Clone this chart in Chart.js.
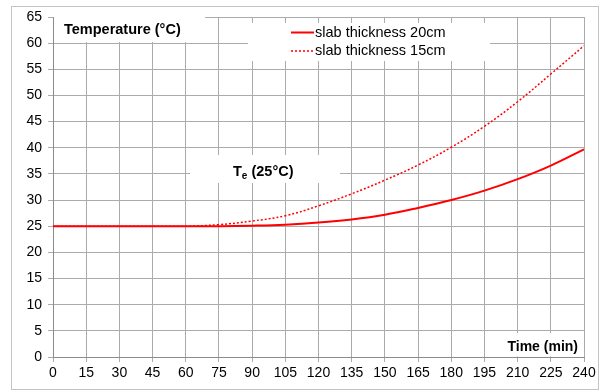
<!DOCTYPE html>
<html><head><meta charset="utf-8">
<script src="https://cdn.jsdelivr.net/npm/chart.js@4/dist/chart.umd.min.js"></script>
<style>html,body{margin:0;padding:0;background:#fff}#wrap{width:602px;height:392px}</style>
</head><body><div id="wrap"><canvas id="c" width="602" height="392"></canvas></div>
<script>
const times = [0,15,30,45,60,75,90,105,120,135,150,165,180,195,210,225,240];
const slab20 = [25,25,25,25,25,25,25.1,25.3,25.7,26.3,27.2,28.5,30.0,31.8,34.0,36.6,39.7];
const slab15 = [25,25,25,25,25,25.3,26.0,27.0,28.9,31.2,33.8,36.7,40.1,44.1,48.8,54.1,59.5];
const seriesNames = ['slab thickness 20cm','slab thickness 15cm'];
const yLabel = 'Temperature (°C)';
const xLabel = 'Time (min)';
const teLabel = ['T','e',' (25°C)'];

const FONT = '"Liberation Sans", Arial, sans-serif';
const GRID = '#ababab';

const overlay = {
  id:'overlay',
  beforeDraw(chart){
    const ctx = chart.ctx;
    ctx.save();
    ctx.fillStyle='#fff'; ctx.fillRect(0,0,chart.width,chart.height);
    ctx.strokeStyle='#c4c4c4'; ctx.lineWidth=1;
    ctx.strokeRect(11.5,6.5,587,383);
    ctx.restore();
  },
  beforeDatasetsDraw(chart){
    const ctx = chart.ctx;
    ctx.save();
    ctx.fillStyle='#fff';
    ctx.fillRect(54,17,151,25);
    ctx.fillRect(248,23,242,38);
    ctx.fillRect(190,155,150,28);
    ctx.fillRect(487,333,97,23.5);
    ctx.fillStyle='#000';
    ctx.textBaseline='middle';
    ctx.font='bold 14.5px '+FONT;
    ctx.textAlign='left';
    ctx.fillText(yLabel,64,30);
    ctx.font='bold 14px '+FONT;
    ctx.textAlign='right';
    ctx.fillText(xLabel,578,347);
    ctx.textAlign='left';
    let tx=233, ty=172;
    ctx.font='bold 14.5px '+FONT;
    ctx.fillText(teLabel[0],tx,ty);
    tx+=ctx.measureText(teLabel[0]).width;
    ctx.font='bold 10px '+FONT;
    ctx.fillText(teLabel[1],tx,ty+4);
    tx+=ctx.measureText(teLabel[1]).width;
    ctx.font='bold 14.5px '+FONT;
    ctx.fillText(teLabel[2],tx,ty);
    ctx.font='14.5px '+FONT;
    const ds = chart.data.datasets;
    const rows=[32.5,51];
    ds.forEach((d,i)=>{
      ctx.strokeStyle=d.borderColor;
      ctx.lineWidth=d.borderWidth;
      ctx.setLineDash(d.borderDash||[]);
      ctx.beginPath(); ctx.moveTo(291,rows[i]); ctx.lineTo(314,rows[i]); ctx.stroke();
      ctx.setLineDash([]);
      ctx.fillStyle='#000';
      ctx.fillText(d.label,315,rows[i]);
    });
    ctx.restore();
  }
};

new Chart(document.getElementById('c'),{
  type:'line',
  data:{datasets:[
    {label:seriesNames[0],data:times.map((t,i)=>({x:t,y:slab20[i]})),borderColor:'#ff0000',borderWidth:2,pointRadius:0,tension:0.4,fill:false},
    {label:seriesNames[1],data:times.map((t,i)=>({x:t,y:slab15[i]})),borderColor:'#ff0000',borderWidth:1.5,borderDash:[2,2],pointRadius:0,tension:0.4,fill:false}
  ]},
  options:{
    responsive:false,animation:false,
    layout:{padding:{top:17,right:18,left:0,bottom:0}},
    plugins:{legend:{display:false},tooltip:{enabled:false}},
    scales:{
      x:{type:'linear',min:0,max:240,
        afterFit(s){s.height=35;},
        afterBuildTicks(s){s.ticks=times.map(v=>({value:v}));},
        grid:{color:GRID,lineWidth:1,tickLength:5,tickColor:GRID},
        border:{color:'#8c8c8c'},
        ticks:{color:'#000',font:{family:FONT,size:14},padding:3,maxRotation:0,autoSkip:false}
      },
      y:{min:0,max:65,
        afterFit(s){s.width=53;},
        grid:{color:GRID,lineWidth:1,tickLength:5,tickColor:GRID},
        border:{color:'#8c8c8c'},
        ticks:{stepSize:5,color:'#000',font:{family:FONT,size:14},padding:6}
      }
    }
  },
  plugins:[overlay]
});
</script></body></html>
